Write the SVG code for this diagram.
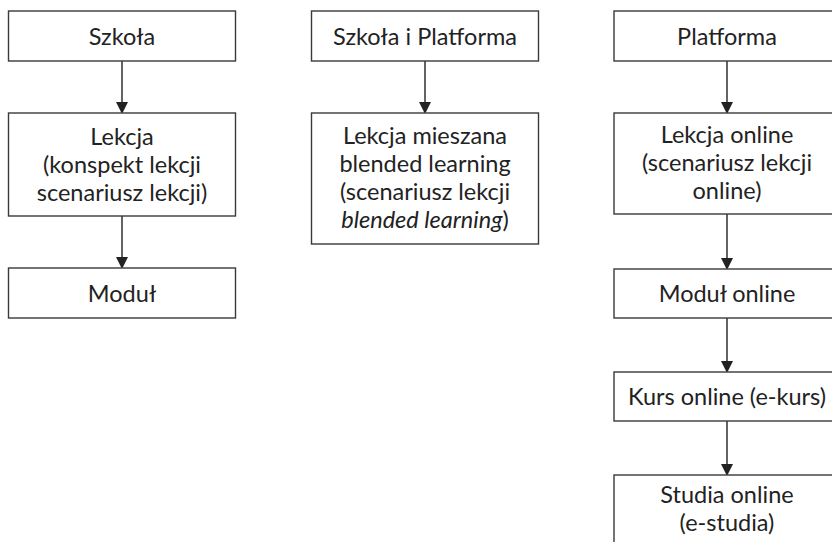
<svg xmlns="http://www.w3.org/2000/svg" width="832" height="542" viewBox="0 0 832 542">
<style>
.box{fill:#fff;stroke:#3a3a3a;stroke-width:1.4}
.t{font-family:Lato,"Open Sans","Liberation Sans",sans-serif;font-size:23.5px;fill:#222;text-anchor:middle}
.c{stroke:#222;stroke-width:1.4;fill:none;marker-end:url(#ah)}
</style>
<defs>
<marker id="ah" markerUnits="userSpaceOnUse" markerWidth="12" markerHeight="14" refX="10" refY="6" orient="auto">
<path d="M0,0 L12,6 L0,12 Z" fill="#222"/>
</marker>
</defs>
<rect width="832" height="542" fill="#fff"/>
<g id="connectors">
<line class="c" x1="122" y1="61" x2="122" y2="112"/>
<line class="c" x1="122" y1="216" x2="122" y2="267"/>
<line class="c" x1="425" y1="61" x2="425" y2="112"/>
<line class="c" x1="727" y1="61" x2="727" y2="112"/>
<line class="c" x1="727" y1="214" x2="727" y2="268"/>
<line class="c" x1="727" y1="318" x2="727" y2="371"/>
<line class="c" x1="727" y1="421" x2="727" y2="474"/>
</g>
<g id="szkola"><rect class="box" x="8.5" y="11" width="227" height="50"/><text class="t" x="122" y="45">Szkoła</text></g>
<g id="lekcja"><rect class="box" x="8.5" y="113" width="227" height="103"/>
<text class="t" x="122" y="145">Lekcja</text><text class="t" x="122" y="173">(konspekt lekcji</text><text class="t" x="122" y="201">scenariusz lekcji)</text></g>
<g id="modul"><rect class="box" x="8.5" y="268" width="227" height="50"/><text class="t" x="122" y="302">Moduł</text></g>
<g id="szkola-platforma"><rect class="box" x="311.5" y="11" width="227" height="50"/><text class="t" x="425" y="45">Szkoła i Platforma</text></g>
<g id="lekcja-mieszana"><rect class="box" x="311.5" y="113" width="227" height="131"/>
<text class="t" x="425" y="144">Lekcja mieszana</text><text class="t" x="425" y="172">blended learning</text><text class="t" x="425" y="200">(scenariusz lekcji</text><text class="t" x="425" y="228"><tspan font-style="italic">blended learning</tspan>)</text></g>
<g id="platforma"><rect class="box" x="614" y="11" width="227" height="50"/><text class="t" x="727" y="45">Platforma</text></g>
<g id="lekcja-online"><rect class="box" x="614" y="113" width="227" height="101"/>
<text class="t" x="727" y="143">Lekcja online</text><text class="t" x="727" y="171">(scenariusz lekcji</text><text class="t" x="727" y="199">online)</text></g>
<g id="modul-online"><rect class="box" x="614" y="269" width="227" height="49"/><text class="t" x="727" y="302">Moduł online</text></g>
<g id="kurs-online"><rect class="box" x="614" y="372" width="227" height="49"/><text class="t" x="727" y="405">Kurs online (e-kurs)</text></g>
<g id="studia-online"><rect class="box" x="614" y="475" width="227" height="80"/>
<text class="t" x="727" y="503">Studia online</text><text class="t" x="727" y="531">(e-studia)</text></g>
</svg>
